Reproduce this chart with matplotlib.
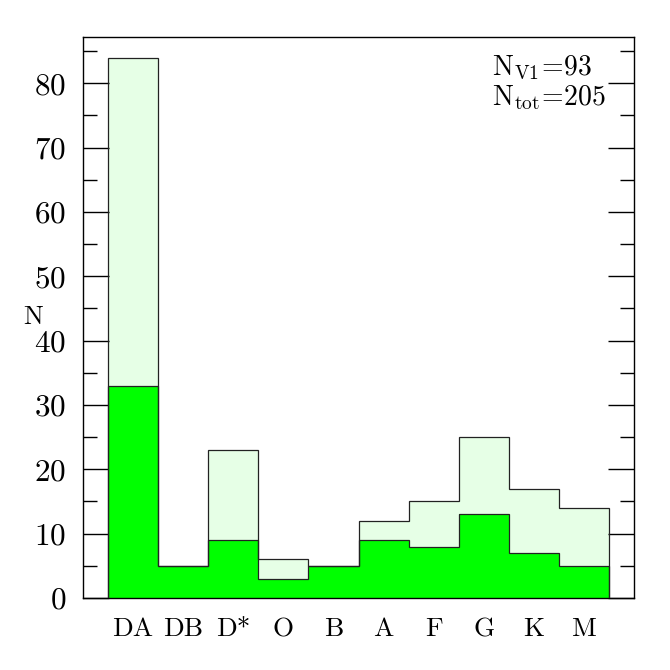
import matplotlib
matplotlib.use("Agg")
import matplotlib.pyplot as plt
import numpy as np

categories = ["DA", "DB", "D*", "O", "B", "A", "F", "G", "K", "M"]
n_total = [84, 5, 23, 6, 5, 12, 15, 25, 17, 14]
n_v1 = [33, 5, 9, 3, 5, 9, 8, 13, 7, 5]
label_v1 = r"$\mathrm{N_{V1}\!=\!93}$"
label_tot = r"$\mathrm{N_{tot}\!=\!205}$"

plt.rcParams["font.family"] = ["cmr10", "DejaVu Serif"]
plt.rcParams["mathtext.fontset"] = "cm"
plt.rcParams["axes.formatter.use_mathtext"] = True

fig = plt.figure(figsize=(6.7, 6.7), dpi=100)
ax = fig.add_axes([83/670, 1-598/670, (634-83)/670, (598-37)/670])

edges = np.arange(len(categories) + 1)
light = "#e6ffe6"
green = "#00ff00"

ax.stairs(n_total, edges, fill=True, color=light, baseline=0, zorder=1)
ax.stairs(n_v1, edges, fill=True, color=green, baseline=0, zorder=2)
ax.stairs(n_total, edges, fill=False, color="#222222", baseline=0, linewidth=0.9, zorder=3)
ax.stairs(n_v1, edges, fill=False, color="#222222", baseline=0, linewidth=0.9, zorder=3)

ax.set_xlim(-0.5, len(categories) + 0.5)
ax.set_ylim(0, 87.2)

centers = edges[:-1] + 0.5
ax.set_xticks(centers)
ax.set_xticklabels(categories)
ax.tick_params(axis="x", length=0, pad=14, labelsize=19.5)

ax.set_yticks(np.arange(0, 81, 10))
ax.set_yticks(np.arange(5, 86, 10), minor=True)
ax.tick_params(axis="y", which="both", direction="in", left=True, right=True, labelsize=22.5, pad=12)
ax.tick_params(axis="y", which="major", length=19, width=1)
ax.tick_params(axis="y", which="minor", length=10, width=1)

for s in ax.spines.values():
    s.set_linewidth(1)

ax.set_ylabel("N", rotation=0, fontsize=19, va="center", ha="center")
ax.yaxis.set_label_coords((33-83)/551, (598-317)/561)

ax.text((492-83)/551, (598-54)/561, label_v1 + "\n" + label_tot, transform=ax.transAxes,
        fontsize=20, va="top", ha="left", linespacing=1.05)

fig.savefig("out.png", dpi=100)
